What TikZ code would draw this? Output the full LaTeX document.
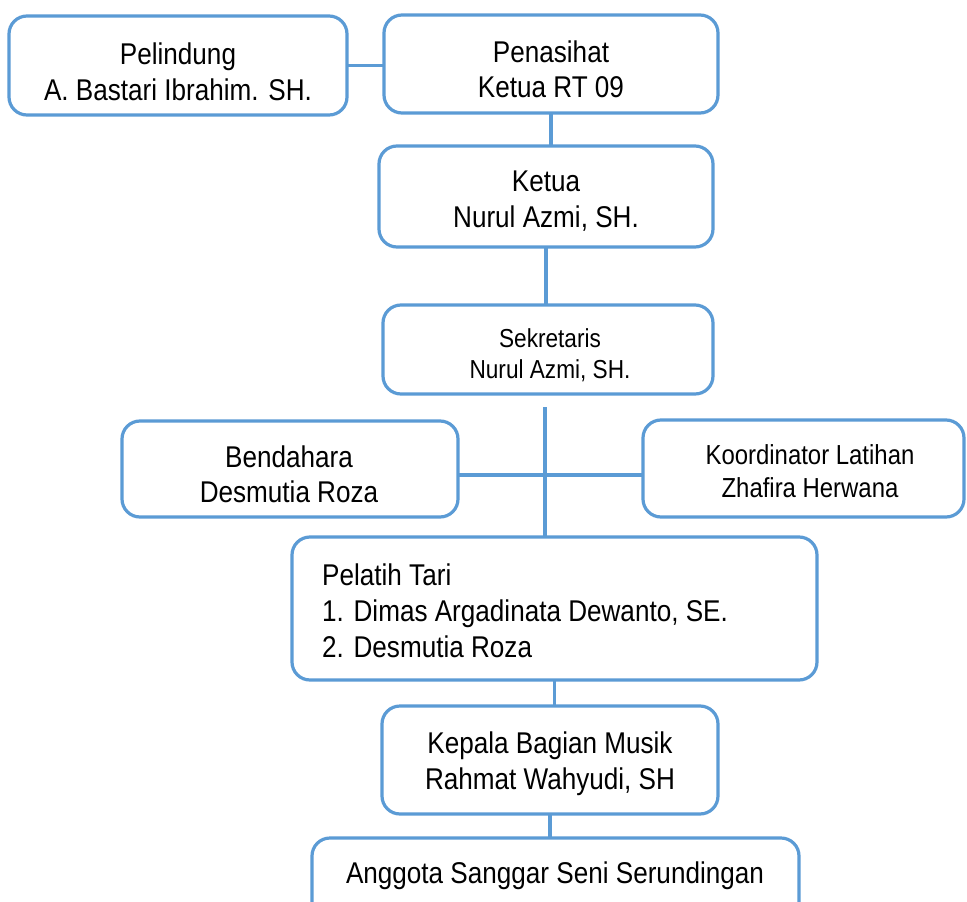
\documentclass[tikz,border=0pt]{standalone}
\usepackage{fontspec}
\setmainfont{Liberation Sans}[FakeStretch=0.87]
\definecolor{orgblue}{HTML}{5B9BD5}
\begin{document}
\begin{tikzpicture}[x=1pt,y=-1pt,
  box/.style={draw=orgblue,line width=3.2pt,rounded corners=18pt,outer sep=0pt,inner sep=0pt},
  conn/.style={draw=orgblue,line width=3.4pt},
  lbl/.style={anchor=base,inner sep=0pt,font=\fontsize{30}{36}\selectfont},
  lbls/.style={anchor=base,inner sep=0pt,font=\fontsize{26}{32}\selectfont},
  lblk/.style={anchor=base,inner sep=0pt,font=\fontsize{27.5}{33}\selectfont},
  lbll/.style={anchor=base west,inner sep=0pt,font=\fontsize{30}{36}\selectfont}]
\clip (0,0) rectangle (967,902);
\fill[white] (0,0) rectangle (967,902);
% boxes
\node[box,minimum width=338pt,minimum height=99pt] (pelindung) at (178,65.5) {};
\node[box,minimum width=334pt,minimum height=98pt] (penasihat) at (551,64) {};
\node[box,minimum width=334pt,minimum height=101pt] (ketua) at (546,196.5) {};
\node[box,minimum width=330pt,minimum height=89pt] (sekretaris) at (548,349.5) {};
\node[box,minimum width=336pt,minimum height=96pt] (bendahara) at (290,469) {};
\node[box,minimum width=321pt,minimum height=97pt] (koordinator) at (803.5,468.5) {};
\node[box,minimum width=525pt,minimum height=143pt] (pelatih) at (554.5,608.5) {};
\node[box,minimum width=336pt,minimum height=108pt] (kepala) at (550,760) {};
\node[box,minimum width=487pt,minimum height=97pt] (anggota) at (555.5,886.5) {};
% connector helpers
\coordinate (sekgap) at (545,407);
\coordinate (hl) at (545,475);
% connectors
\draw[conn] (pelindung.east) -- (pelindung.east -| penasihat.west);
\draw[conn] (penasihat.south) -- (penasihat.south |- ketua.north);
\draw[conn] (ketua.south) -- (ketua.south |- sekretaris.north);
\draw[conn] (sekgap) -- (sekgap |- pelatih.north);
\draw[conn] (bendahara.east |- hl) -- (koordinator.west |- hl);
\draw[conn] (pelatih.south) -- (pelatih.south |- kepala.north);
\draw[conn] (kepala.south) -- (kepala.south |- anggota.north);
% texts
\node[lbl] (tpel1) at (178,64) {Pelindung};
\node[lbl] (tpel2) at (178,100) {A. Bastari Ibrahim. SH.};
\node[lbl] (tpen1) at (551,62) {Penasihat};
\node[lbl] (tpen2) at (551,97) {Ketua RT 09};
\node[lbl] (tket1) at (546,191) {Ketua};
\node[lbl] (tket2) at (546,227) {Nurul Azmi, SH.};
\node[lbls] (tsek1) at (550,347) {Sekretaris};
\node[lbls] (tsek2) at (550,378) {Nurul Azmi, SH.};
\node[lbl] (tben1) at (289,467) {Bendahara};
\node[lbl] (tben2) at (289,502) {Desmutia Roza};
\node[lblk] (tkoo1) at (810,464) {Koordinator Latihan};
\node[lblk] (tkoo2) at (810,497) {Zhafira Herwana};
\node[lbll] (tlat1) at (322,585) {Pelatih Tari};
\node[lbll] (tlat2) at (322,621) {1. Dimas Argadinata Dewanto, SE.};
\node[lbll] (tlat3) at (322,657) {2. Desmutia Roza};
\node[lbl] (tkep1) at (550,753) {Kepala Bagian Musik};
\node[lbl] (tkep2) at (550,789) {Rahmat Wahyudi, SH};
\node[lbl] (tang1) at (555,883) {Anggota Sanggar Seni Serundingan};
\end{tikzpicture}
\end{document}
